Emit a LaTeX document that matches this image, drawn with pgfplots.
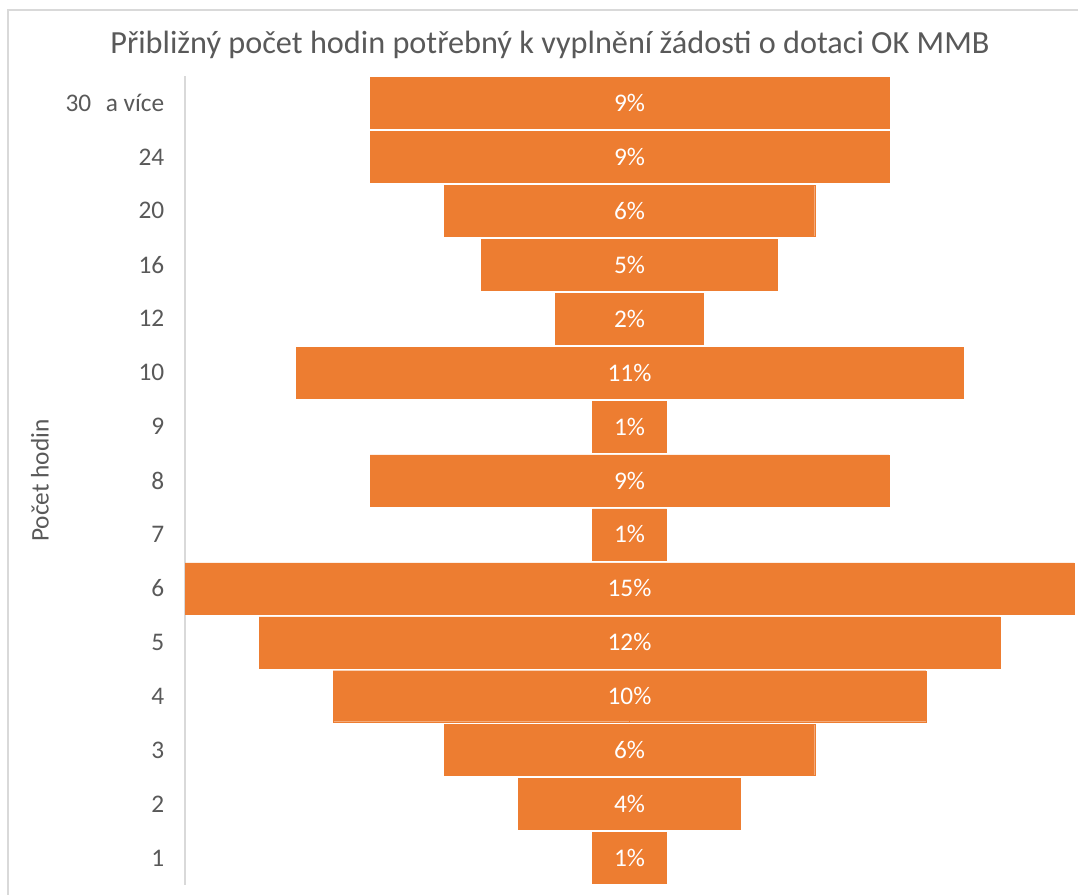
\documentclass[border=0pt]{standalone}
\usepackage{fontspec}
\setmainfont{Carlito}
\usepackage{pgfplots}
\usepackage{pgfplotstable}
\pgfplotsset{compat=1.18}
\definecolor{barOrange}{HTML}{ED7D31}
\definecolor{txtGray}{HTML}{595959}
\definecolor{lineGray}{HTML}{D9D9D9}

% pos = row from the bottom, n = respondents, pct = shown share
\pgfplotstableread{
pos n pct
0 1 1
1 3 4
2 5 6
3 8 10
4 10 12
5 12 15
6 1 1
7 7 9
8 1 1
9 9 11
10 2 2
11 4 5
12 5 6
13 7 9
14 7 9
}\funnel

\begin{document}
\begin{tikzpicture}
\path[use as bounding box] (0,0) rectangle (808.5pt,671.25pt);
\draw[lineGray, line width=0.8pt] (6pt,0) -- (6pt,663.75pt) -- (808.5pt,663.75pt);
\begin{axis}[
    at={(138.75pt,7.5pt)}, anchor=south west,
    scale only axis,
    width=666.75pt, height=606.75pt,
    xmin=-12, xmax=12,
    ymin=-0.5, ymax=14.5,
    axis x line=none,
    axis y line=left,
    y axis line style={-, lineGray, line width=0.8pt},
    ytick={0,...,14},
    yticklabels={1,2,3,4,5,6,7,8,9,10,12,16,20,24,{30\hspace{11pt}a více}},
    major tick length=0pt,
    tick style={draw=none},
    yticklabel style={font=\fontsize{19}{19}\selectfont, text=txtGray, xshift=-12pt},
    ylabel={Počet hodin},
    every axis y label/.style={at={(rel axis cs:0,0.5)}, xshift=-108.75pt, rotate=90,
        anchor=center, font=\fontsize{19}{19}\selectfont, text=txtGray},
    /pgf/number format/assume math mode=true,
    clip=false,
]
\addplot[xbar, bar width=38.25pt, bar shift=0pt, fill=barOrange, draw=barOrange, line width=0.3pt]
    table[x=n, y=pos]{\funnel};
\addplot[xbar, bar width=38.25pt, bar shift=0pt, fill=barOrange, draw=barOrange, line width=0.3pt]
    table[x expr=-\thisrow{n}, y=pos]{\funnel};
\addplot[only marks, mark=none, point meta=\thisrow{pct},
    nodes near coords={\pgfmathprintnumber{\pgfplotspointmeta}\%},
    nodes near coords style={anchor=center, text=white, font=\fontsize{19}{19}\selectfont}]
    table[x expr=0, y=pos]{\funnel};
\end{axis}
\node[font=\fontsize{24.2}{24.2}\selectfont, text=txtGray] at (412.5pt,637.5pt)
    {Přibližný počet hodin potřebný k vyplnění žádosti o dotaci OK MMB};
\end{tikzpicture}
\end{document}
